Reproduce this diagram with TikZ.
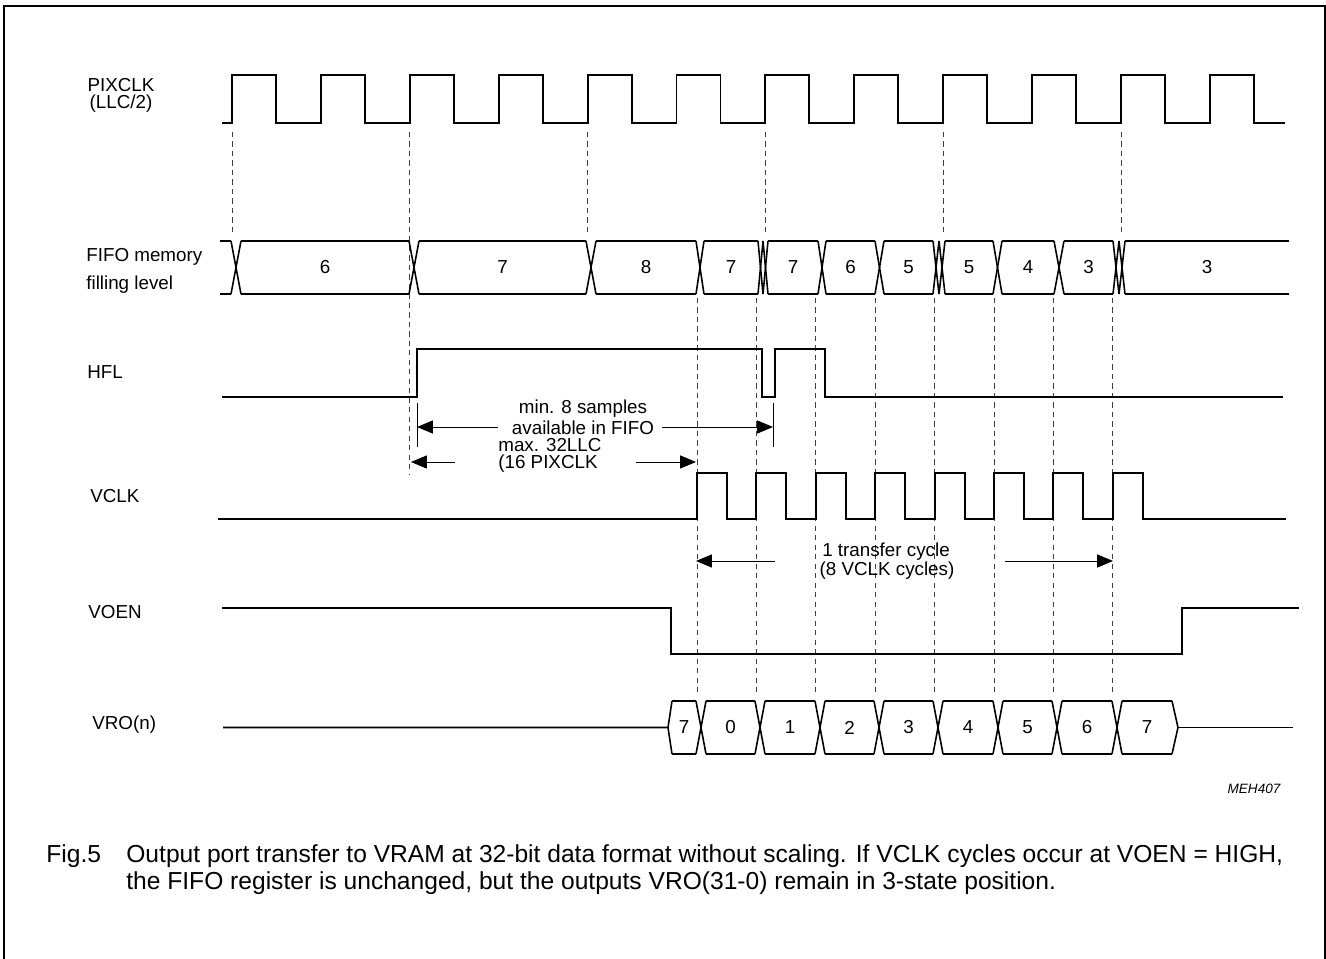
\documentclass[tikz,border=0pt]{standalone}
\usepackage{fontspec}
\setmainfont{Liberation Sans}
\usetikzlibrary{arrows.meta}

\newcommand{\lblfont}{\fontsize{10.7pt}{12pt}\selectfont}
\newcommand{\capfont}{\fontsize{14pt}{16pt}\selectfont}

\begin{document}
\begin{tikzpicture}[
    x=0.02cm, y=-0.02cm,
    sig/.style={line width=1.1pt, line join=miter},
    bus/.style={line width=0.9pt},
    guide/.style={line width=0.5pt, black!75, dash pattern=on 3pt off 2.4pt},
    tick/.style={line width=0.55pt},
    dim/.style={-{Triangle[length=9pt, width=7.4pt]}, line width=0.55pt},
    sname/.style={font=\lblfont, anchor=west, inner sep=0pt},
    val/.style={font=\lblfont, inner sep=0pt},
    note/.style={font=\lblfont, inner sep=0pt},
]
  \useasboundingbox (0,0) rectangle (1326,959);

  % Frame
  \draw[line width=1.1pt] (4,959) -- (4,6) -- (1325,6) -- (1325,959);

  % Signal names
  \node[val] (lpix) at (121,85) {PIXCLK};
  \node[val] (lllc) at (121,104) {(LLC/2)};
  \node[sname] (lfifo) at (86,257) {FIFO memory};
  \node[sname] (lfill) at (86,285) {filling level};
  \node[sname] (lhfl) at (87,372) {HFL};
  \node[sname] (lvclk) at (90,496) {VCLK};
  \node[sname] (lvoen) at (88,612) {VOEN};
  \node[sname] (lvro) at (92,725) {VRO(n)};

  % Guide lines
  \foreach \i in {0,4,6,8,10} {
    \draw[guide] ({232+88.9*\i},132) -- ({232+88.9*\i},233);
  }
  \draw[guide] ({232+88.9*2},132) -- ({232+88.9*2},475);
  \foreach \i in {0,...,7} {
    \draw[guide] ({697+59.4*\i},298) -- ({697+59.4*\i},692);
  }

  % PIXCLK
  \draw[sig] (222,123) \foreach \i in {0,...,11} {
      -- ({232+88.9*\i},123) |- ({276+88.9*\i},75) -- ({276+88.9*\i},123) }
    -- (1285,123);

  % FIFO filling level
  \draw[bus] (220,241) -- (231,241);
  \draw[bus] (220,294) -- (231,294);
  \foreach \l/\r/\v [count=\i] in {241/409/6, 419/586/7, 596/696/8, 704/758/7,
      768/818/7, 826/875/6, 884/933/5, 945/993/5, 1002/1054/4, 1064/1113/3,
      1125/1289/3} {
    \draw[bus] (\l,241) -- (\r,241);
    \draw[bus] (\l,294) -- (\r,294);
    \node[val] (f\i) at ({(\l+\r)/2},267.5) {\v};
  }
  \foreach \c/\h in {236/5, 414/5, 591/5, 700/4, 760.5/2.5, 765.5/2.5, 822/4,
      879.5/4.5, 936/3, 942/3, 997.5/4.5, 1059/5, 1116/3, 1122/3} {
    \draw[bus] ({\c-\h},241) -- ({\c+\h},294);
    \draw[bus] ({\c-\h},294) -- ({\c+\h},241);
  }

  % HFL
  \draw[sig] (222,397) -- (417,397) -- (417,349) -- (762,349) -- (762,397)
    -- (775,397) -- (775,349) -- (825,349) -- (825,397) -- (1283,397);

  % min. 8 samples
  \draw[tick] (417,403) -- (417,447);
  \draw[tick] (773,403) -- (773,447);
  \coordinate (minL) at (417,427);
  \coordinate (minLt) at (498,427);
  \coordinate (minRt) at (662,427);
  \coordinate (minR) at (773,427);
  \node[note] (minA) at (583,409) {min. 8 samples};
  \node[note] (minB) at (583,428) {available in FIFO};
  \draw[dim] (minLt) -- (minL);
  \draw[dim] (minRt) -- (minR);

  % max. 32LLC
  \coordinate (maxL) at (411,462);
  \coordinate (maxLt) at (455,462);
  \coordinate (maxRt) at (636,462);
  \coordinate (maxR) at (696,462);
  \node[sname] (maxA) at (498,445) {max. 32LLC};
  \node[sname] (maxB) at (498,464) {(16 PIXCLK};
  \draw[dim] (maxLt) -- (maxL);
  \draw[dim] (maxRt) -- (maxR);

  % VCLK
  \draw[sig] (218,519) \foreach \i in {0,...,7} {
      -- ({697+59.4*\i},519) |- ({727+59.4*\i},473) -- ({727+59.4*\i},519) }
    -- (1286,519);

  % 1 transfer cycle
  \coordinate (tcL) at (696,561);
  \coordinate (tcLt) at (775,561);
  \coordinate (tcRt) at (1005,561);
  \coordinate (tcR) at (1113,561);
  \node[note] (tcA) at (886,552) {1 transfer cycle};
  \node[note] (tcB) at (887,571) {(8 VCLK cycles)};
  \draw[dim] (tcLt) -- (tcL);
  \draw[dim] (tcRt) -- (tcR);

  % VOEN
  \draw[sig] (222,608) -- (671,608) -- (671,654) -- (1182,654) -- (1182,608)
    -- (1299,608);

  % VRO(n)
  \draw[bus] (223,727.5) -- (668,727.5) -- (672,701);
  \draw[bus] (668,727.5) -- (672,754);
  \foreach \l/\r/\v [count=\i] in {672/696/7, 706/755/0, 765/815/1, 825/874/2,
      884/933/3, 943/993/4, 1003/1052/5, 1062/1112/6, 1122/1172/7} {
    \draw[bus] (\l,701) -- (\r,701);
    \draw[bus] (\l,754) -- (\r,754);
    \node[val] (v\i) at ({(\l+\r)/2},727.5) {\v};
  }
  \foreach \c in {701,760,820,879,938,998,1057,1117} {
    \draw[bus] ({\c-5},701) -- ({\c+5},754);
    \draw[bus] ({\c-5},754) -- ({\c+5},701);
  }
  \draw[bus] (1172,701) -- (1178,727.5) -- (1172,754);
  \draw[bus] (1178,727.5) -- (1293,727.5);

  % Drawing number
  \node[font=\fontsize{7.7pt}{9pt}\selectfont\itshape, inner sep=0pt] (meh) at (1254,789) {MEH407};

  % Caption
  \node[font=\capfont, anchor=west, inner sep=0pt] (fig) at (46,856) {Fig.5};
  \node[font=\capfont, anchor=west, inner sep=0pt] (cap1) at (126,856)
    {Output port transfer to VRAM at 32-bit data format without scaling. If VCLK cycles occur at VOEN = HIGH,};
  \node[font=\capfont, anchor=west, inner sep=0pt] (cap2) at (126,883)
    {the FIFO register is unchanged, but the outputs VRO(31-0) remain in 3-state position.};

\end{tikzpicture}
\end{document}
